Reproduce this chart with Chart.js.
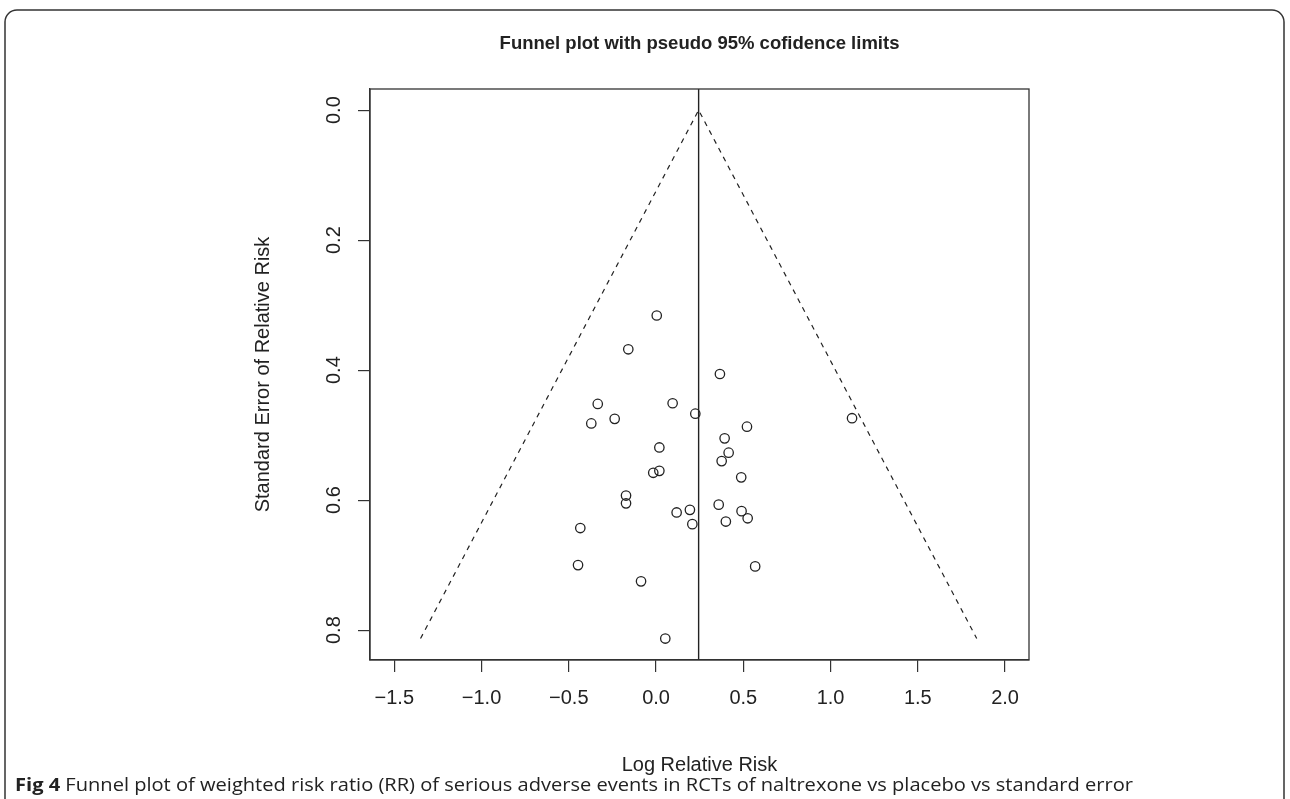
<!DOCTYPE html>
<html>
<head>
<meta charset="utf-8">
<script src="https://cdn.jsdelivr.net/npm/chart.js@4"></script>
<style>
  html, body { margin: 0; padding: 0; background: #fff; }
  canvas { display: block; }
</style>
</head>
<body>
<canvas id="funnel" width="1290" height="799"></canvas>
<script>
// study estimates
const logRR = [0.004, -0.159, 0.366, -0.334, 0.095, 0.225, -0.237, -0.371, 1.123, 0.521,
  0.393, 0.019, 0.416, 0.376, 0.019, -0.016, 0.488, -0.172, -0.172, 0.359,
  0.194, 0.118, 0.490, 0.525, 0.208, 0.400, -0.434, -0.447, 0.568, -0.086, 0.053]
const seRR = [0.316, 0.368, 0.406, 0.452, 0.451, 0.467, 0.475, 0.482, 0.474, 0.487,
  0.505, 0.519, 0.527, 0.540, 0.555, 0.558, 0.565, 0.593, 0.605, 0.607,
  0.615, 0.619, 0.617, 0.628, 0.637, 0.633, 0.643, 0.700, 0.702, 0.725, 0.813]
const pooled = 0.244
const xTicks = [-1.5, -1.0, -0.5, 0.0, 0.5, 1.0, 1.5, 2.0]
const yTicks = [0.0, 0.2, 0.4, 0.6, 0.8]
const xRange = [-1.639, 2.137]
const yRange = [-0.0325, 0.846]

const ink = '#222'
const font = 'Liberation Sans, Arial, Helvetica, sans-serif'

const seMax = Math.max(...seRR)
const funnel = [
  { x: pooled - 1.96 * seMax, y: seMax },
  { x: pooled, y: 0 },
  { x: pooled + 1.96 * seMax, y: seMax }
]

const fmt = v => (v < 0 ? '\u2212' : '') + Math.abs(v).toFixed(1)

const decor = {
  id: 'decor',
  beforeDraw(chart) {
    const c = chart.ctx
    c.save()
    c.fillStyle = '#fff'
    c.fillRect(0, 0, chart.width, chart.height)
    c.restore()
  },
  afterDraw(chart) {
    const c = chart.ctx
    const a = chart.chartArea
    const ys = chart.scales.y
    c.save()
    // box around the plot
    c.strokeStyle = '#333'
    c.lineWidth = 1.3
    c.strokeRect(a.left, a.top, a.right - a.left, a.bottom - a.top)

    // rotated y tick labels
    c.fillStyle = ink
    c.font = '20px ' + font
    c.textAlign = 'center'
    c.textBaseline = 'middle'
    yTicks.forEach(v => {
      c.save()
      c.translate(334, ys.getPixelForValue(v))
      c.rotate(-Math.PI / 2)
      c.fillText(fmt(v), 0, 0)
      c.restore()
    })

    const mid = (a.left + a.right) / 2
    c.fillText('Log Relative Risk', mid, 765)
    c.save()
    c.translate(263, (a.top + a.bottom) / 2)
    c.rotate(-Math.PI / 2)
    c.fillText('Standard Error of Relative Risk', 0, 0)
    c.restore()

    c.font = 'bold 18.5px ' + font
    c.fillText('Funnel plot with pseudo 95% cofidence limits', mid, 44)

    // figure caption, stretched to the width it has in the original
    const lead = 'Fig 4 '
    const rest = 'Funnel plot of weighted risk ratio (RR) of serious adverse events in RCTs of naltrexone vs placebo vs standard error'
    const capSize = '18.5px Open Sans, sans-serif'
    c.textAlign = 'left'
    c.textBaseline = 'alphabetic'
    c.font = 'bold ' + capSize
    const w1 = c.measureText(lead).width
    c.font = capSize
    const w2 = c.measureText(rest).width
    const k = (1133 - 15) / (w1 + w2)
    c.save()
    c.translate(15, 791)
    c.scale(k, 1)
    c.font = 'bold ' + capSize
    c.fillText(lead, 0, 0)
    c.font = capSize
    c.fillText(rest, w1, 0)
    c.restore()

    // outer panel border
    c.strokeStyle = '#333'
    c.lineWidth = 1.5
    const r = 12, l = 5, t = 10, rt = 1284, b = 820
    c.beginPath()
    c.moveTo(l, b)
    c.lineTo(l, t + r)
    c.arcTo(l, t, l + r, t, r)
    c.lineTo(rt - r, t)
    c.arcTo(rt, t, rt, t + r, r)
    c.lineTo(rt, b)
    c.stroke()
    c.restore()
  }
}

new Chart(document.getElementById('funnel').getContext('2d'), {
  type: 'scatter',
  data: {
    datasets: [{
      label: 'studies',
      data: logRR.map((v, i) => ({ x: v, y: seRR[i] })),
      pointStyle: 'circle',
      pointRadius: 4.7,
      pointBorderWidth: 1.3,
      pointBorderColor: ink,
      pointBackgroundColor: 'rgba(0,0,0,0)',
      showLine: false
    }, {
      label: 'pseudo 95% limits',
      data: funnel,
      showLine: true,
      borderColor: ink,
      borderWidth: 1.2,
      borderDash: [5, 5],
      pointRadius: 0,
      fill: false
    }, {
      label: 'pooled',
      data: [{ x: pooled, y: yRange[0] }, { x: pooled, y: yRange[1] }],
      showLine: true,
      borderColor: ink,
      borderWidth: 1.4,
      pointRadius: 0,
      fill: false
    }]
  },
  options: {
    responsive: false,
    animation: false,
    layout: { padding: { left: 358, right: 261, top: 89, bottom: 75 } },
    plugins: { legend: { display: false }, tooltip: { enabled: false } },
    scales: {
      x: {
        type: 'linear',
        min: xRange[0],
        max: xRange[1],
        afterBuildTicks: s => { s.ticks = xTicks.map(v => ({ value: v })) },
        grid: { drawOnChartArea: false, drawTicks: true, tickLength: 12, color: '#333', lineWidth: 1.2 },
        border: { display: true, color: '#333', width: 1.3 },
        ticks: {
          color: ink,
          font: { family: font, size: 20 },
          padding: 14,
          maxRotation: 0,
          autoSkip: false,
          callback: v => fmt(v)
        }
      },
      y: {
        type: 'linear',
        reverse: true,
        min: yRange[0],
        max: yRange[1],
        afterBuildTicks: s => { s.ticks = yTicks.map(v => ({ value: v })) },
        grid: { drawOnChartArea: false, drawTicks: true, tickLength: 12, color: '#333', lineWidth: 1.2 },
        border: { display: true, color: '#333', width: 1.3 },
        ticks: { display: false }
      }
    }
  },
  plugins: [decor]
})
</script>
</body>
</html>
